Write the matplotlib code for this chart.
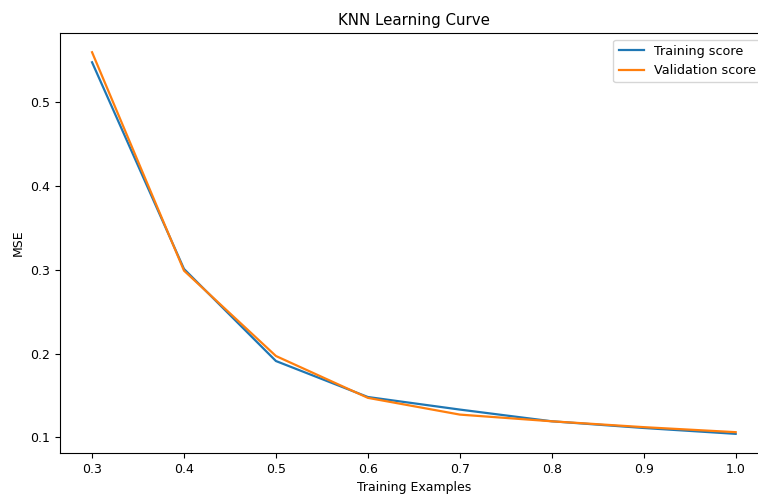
import matplotlib
matplotlib.use("Agg")
from matplotlib import pyplot as plt

# fraction of training set used
train_sizes = [0.3, 0.4, 0.5, 0.6, 0.7, 0.8, 0.9, 1.0]
# MSE
train_mse = [0.548, 0.301, 0.191, 0.148, 0.133, 0.119, 0.111, 0.104]
valid_mse = [0.560, 0.299, 0.197, 0.147, 0.127, 0.119, 0.112, 0.106]

fig = plt.figure(figsize=(7.58, 4.95), dpi=100)
# right side of the axes runs off the picture, like the reference crop
ax = fig.add_axes([0.079, 0.085, 0.934, 0.848])

ax.plot(train_sizes, train_mse, label="Training score", lw=1.6)
ax.plot(train_sizes, valid_mse, label="Validation score", lw=1.6)

ax.set_title("KNN Learning Curve", fontsize=10.8)
ax.set_xlabel("Training Examples", fontsize=9)
ax.set_ylabel("MSE", fontsize=9)
ax.tick_params(labelsize=9)
ax.legend(loc="upper right", fontsize=9.2)

fig.savefig("out.png", dpi=100)
